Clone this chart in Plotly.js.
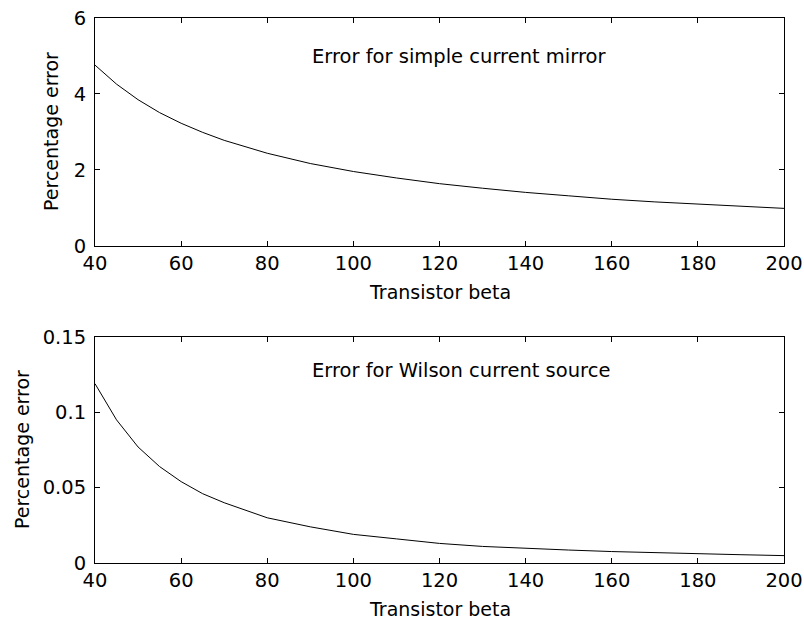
<!DOCTYPE html>
<html>
<head>
<meta charset="utf-8">
<script src="https://cdn.plot.ly/plotly-3.0.1.min.js"></script>
<style>html,body{margin:0;padding:0;background:#fff;}#chart{width:804px;height:624px;}</style>
</head>
<body>
<div id="chart"></div>
<script>
// Transistor beta sample points
const beta = [40, 45, 50, 55, 60, 65, 70, 80, 90, 100, 110, 120, 130, 140, 150, 160, 170, 180, 190, 200];
// Percentage error, simple current mirror
const mirrorErr = [4.76, 4.26, 3.85, 3.51, 3.23, 2.99, 2.78, 2.44, 2.17, 1.96, 1.79, 1.64, 1.52, 1.41, 1.32, 1.23, 1.16, 1.10, 1.04, 0.99];
// Percentage error, Wilson current source
const wilsonErr = [0.119, 0.095, 0.077, 0.064, 0.054, 0.046, 0.040, 0.030, 0.024, 0.019, 0.016, 0.013, 0.011, 0.0097, 0.0086, 0.0076, 0.0068, 0.0061, 0.0055, 0.0049];

const xTicks = [40, 60, 80, 100, 120, 140, 160, 180, 200];
const xTickText = ['40', '60', '80', '100', '120', '140', '160', '180', '200'];
const yTicksTop = [0, 2, 4, 6];
const yTickTextTop = ['0', '2', '4', '6'];
const yTicksBottom = [0, 0.05, 0.1, 0.15];
const yTickTextBottom = ['0', '0.05', '0.1', '0.15'];

const xTitle = 'Transistor beta';
const yTitle = 'Percentage error';
const topLabel = 'Error for simple current mirror';
const bottomLabel = 'Error for Wilson current source';

const FONT = {family: 'DejaVu Sans, sans-serif', size: 19.5, color: '#000'};
const TFONT = {family: 'DejaVu Sans, sans-serif', size: 19, color: '#000'};

const topDom = [0.5817, 1];
const botDom = [0, 0.4147];

function axisBase(extra) {
  return Object.assign({
    showline: true, mirror: 'ticks', linecolor: '#000', linewidth: 1,
    ticks: 'inside', ticklen: 5, tickwidth: 1, tickcolor: '#000',
    showgrid: false, zeroline: false, fixedrange: true,
    tickfont: FONT, automargin: false
  }, extra);
}

const traces = [
  {x: beta, y: mirrorErr, type: 'scatter', mode: 'lines', xaxis: 'x', yaxis: 'y',
   line: {color: '#000', width: 1}, hoverinfo: 'skip'},
  {x: beta, y: wilsonErr, type: 'scatter', mode: 'lines', xaxis: 'x2', yaxis: 'y2',
   line: {color: '#000', width: 1}, hoverinfo: 'skip'}
];

const layout = {
  width: 804, height: 624,
  margin: {l: 95, r: 20, t: 18, b: 61},
  paper_bgcolor: '#fff', plot_bgcolor: '#fff',
  showlegend: false,
  font: FONT,
  xaxis: axisBase({domain: [0, 1], anchor: 'y', range: [40, 200], tickvals: xTicks, ticktext: xTickText}),
  yaxis: axisBase({domain: topDom, anchor: 'x', range: [0, 6], tickvals: yTicksTop, ticktext: yTickTextTop,
    ticklabelstandoff: 4}),
  xaxis2: axisBase({domain: [0, 1], anchor: 'y2', range: [40, 200], tickvals: xTicks, ticktext: xTickText}),
  yaxis2: axisBase({domain: botDom, anchor: 'x2', range: [0, 0.15], tickvals: yTicksBottom, ticktext: yTickTextBottom,
    ticklabelstandoff: 4}),
  annotations: [
    {x: 90, y: 5, xref: 'x', yref: 'y', text: topLabel, showarrow: false, xanchor: 'left', yanchor: 'middle', font: FONT},
    {x: 90, y: 0.128, xref: 'x2', yref: 'y2', text: bottomLabel, showarrow: false, xanchor: 'left', yanchor: 'middle', font: FONT},
    // axis titles
    {x: 0.5, y: topDom[0], xref: 'paper', yref: 'paper', yshift: -46, text: xTitle, showarrow: false,
     xanchor: 'center', yanchor: 'middle', font: TFONT},
    {x: 0.5, y: botDom[0], xref: 'paper', yref: 'paper', yshift: -46, text: xTitle, showarrow: false,
     xanchor: 'center', yanchor: 'middle', font: TFONT},
    {x: 0, y: (topDom[0] + topDom[1]) / 2, xref: 'paper', yref: 'paper', xshift: -44, text: yTitle, showarrow: false,
     textangle: -90, xanchor: 'center', yanchor: 'middle', font: TFONT},
    {x: 0, y: (botDom[0] + botDom[1]) / 2, xref: 'paper', yref: 'paper', xshift: -73, text: yTitle, showarrow: false,
     textangle: -90, xanchor: 'center', yanchor: 'middle', font: TFONT}
  ]
};

Plotly.newPlot('chart', traces, layout, {displayModeBar: false, staticPlot: true});
</script>
</body>
</html>
